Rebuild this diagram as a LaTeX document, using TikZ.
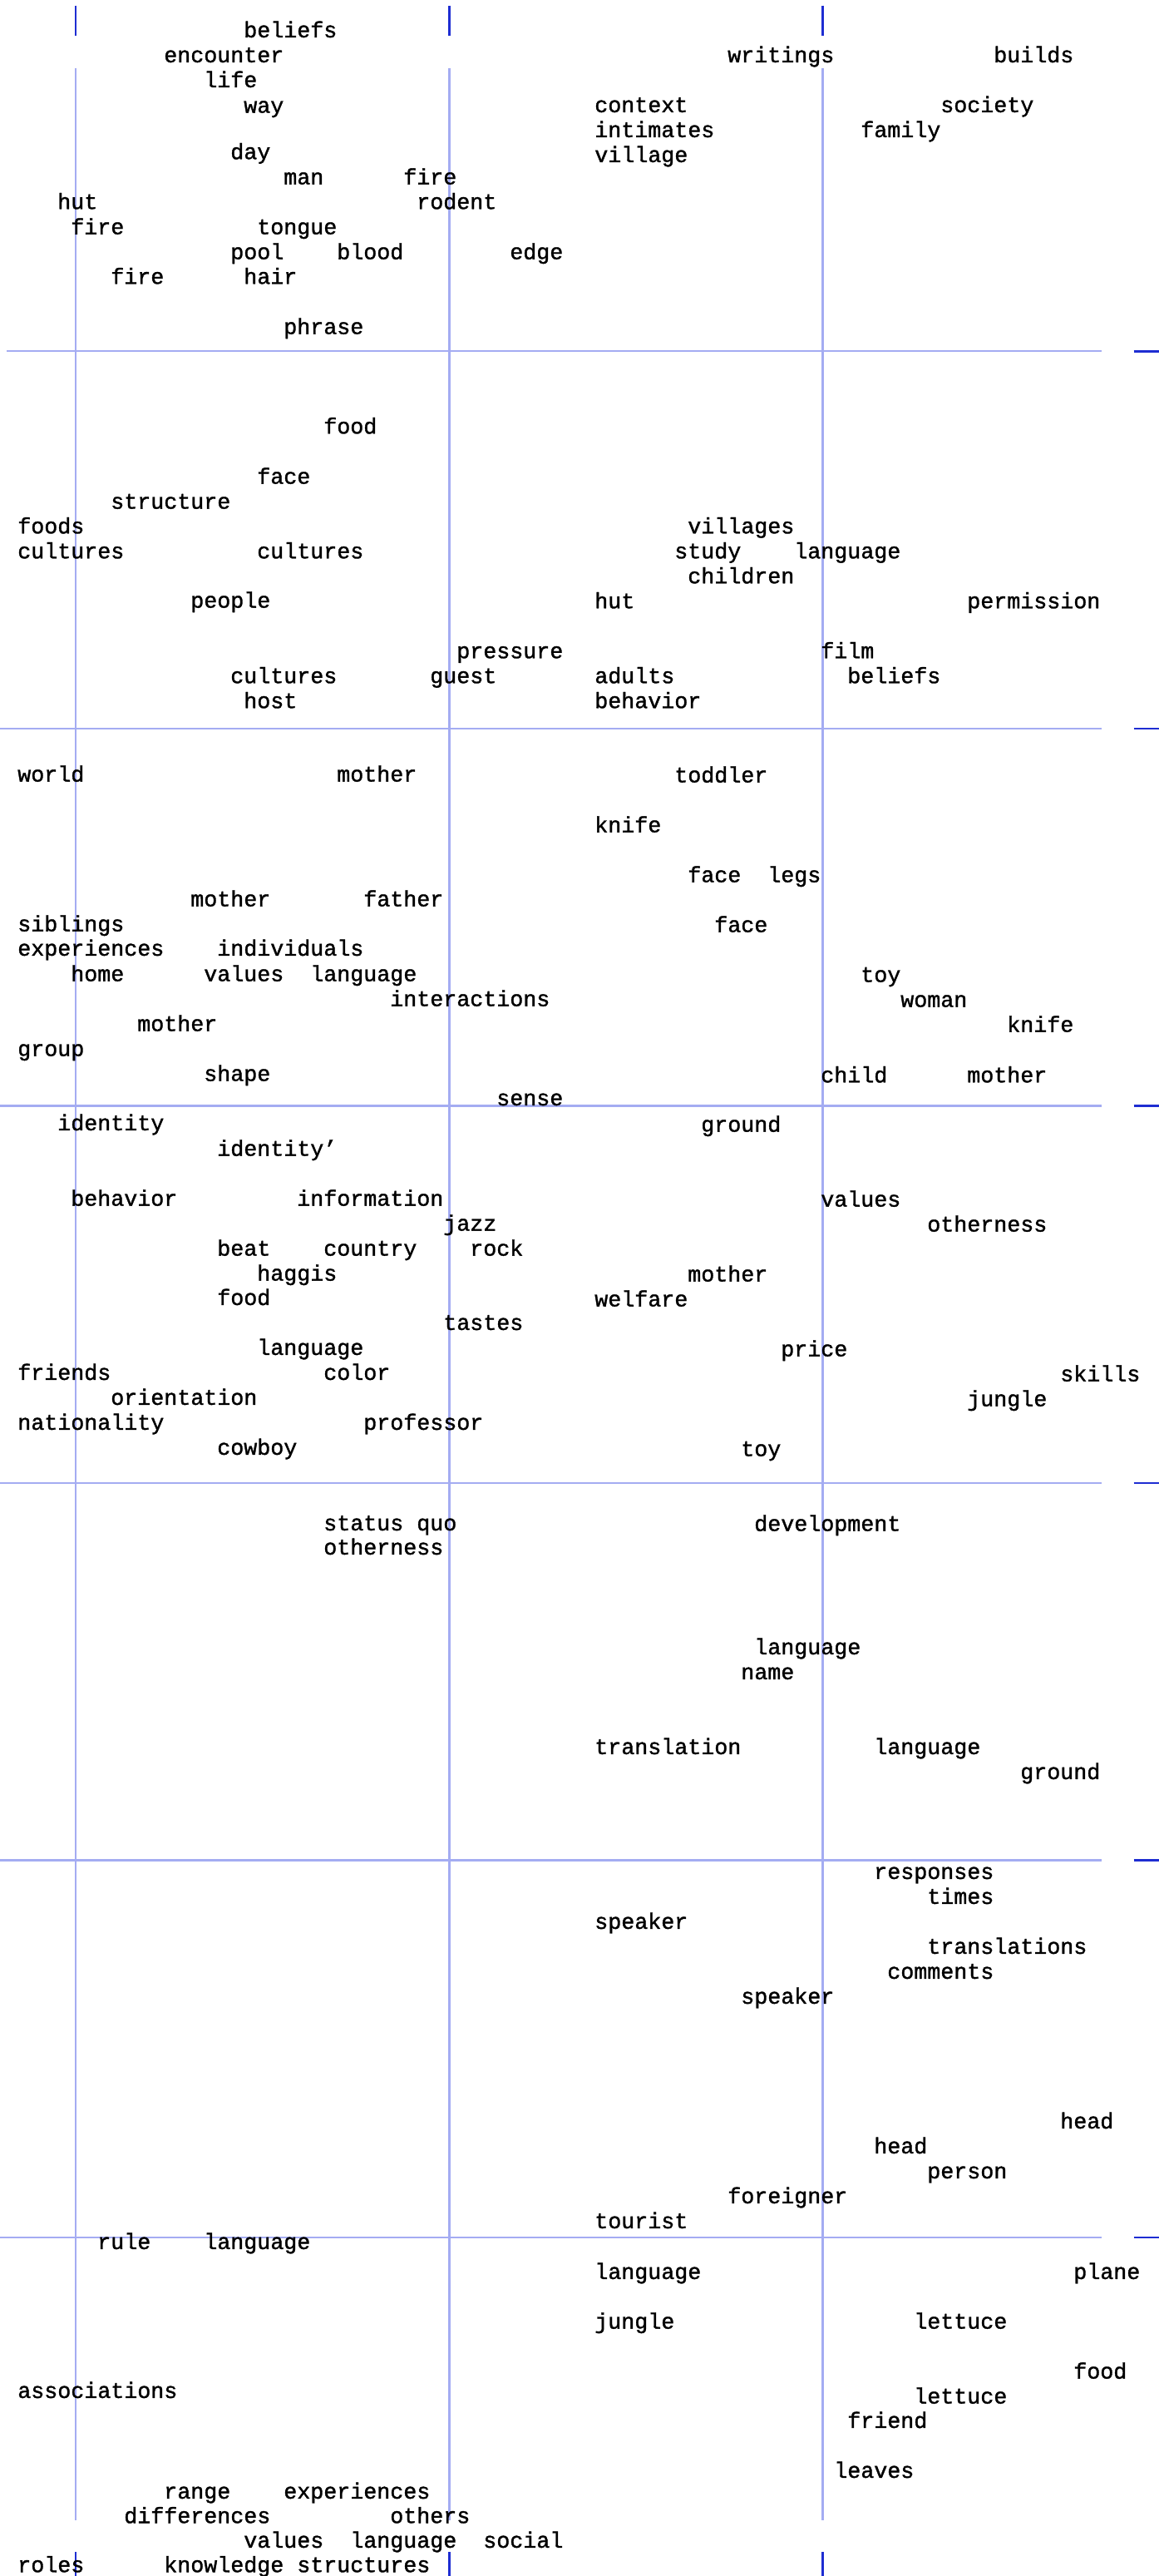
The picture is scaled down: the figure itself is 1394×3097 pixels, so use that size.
\documentclass[tikz,border=0pt]{standalone}
\usepackage{fontspec}
\setmainfont{Liberation Mono}[FakeBold=1.3]
\definecolor{gridlight}{RGB}{164,172,242}
\definecolor{griddark}{RGB}{30,45,210}
\newcommand\wordL[4]{\node[wd] (#1) at ({21.3+16*#2},{#3+0.6}) {#4};}
\newcommand\wordR[4]{\node[wd] (#1) at ({715.3+16*#2},{#3+0.6}) {#4};}
\begin{document}
\begin{tikzpicture}[x=1pt,y=-1pt,
  wd/.style={anchor=base west,inner sep=0pt,outer sep=0pt,font=\fontsize{26.67}{30}\selectfont,text=black},
  lightline/.style={draw=gridlight,line width=2.2pt},
  darkline/.style={draw=griddark,line width=2.4pt}]
\useasboundingbox[fill=white] (0,0) rectangle (1394,3097);
% grid lines
\foreach \k in {0,...,5}{
  \pgfmathsetmacro\yy{422.3+453.55*\k}
  \draw[lightline] ({\k==0 ? 8 : 0},\yy) -- (1325,\yy);
  \draw[darkline] (1363.5,\yy) -- (1394,\yy);
}
\foreach \xx in {91,540.5,989.5}{
  \draw[lightline] (\xx,81.7) -- (\xx,3030);
  \draw[darkline] (\xx,6.7) -- (\xx,43.3);
  \draw[darkline] (\xx,3068.3) -- (\xx,3097);
}
% panel 1
\wordL{a1}{17}{44.3}{beliefs}
\wordL{a2}{11}{74.3}{encounter}
\wordL{a3}{14}{104.3}{life}
\wordL{a4}{17}{135}{way}
\wordL{a5}{16}{190.7}{day}
\wordL{a6}{20}{221}{man}
\wordL{a7}{29}{221}{fire}
\wordL{a8}{3}{250.7}{hut}
\wordL{a9}{30}{250.7}{rodent}
\wordL{a10}{4}{281}{fire}
\wordL{a11}{18}{281}{tongue}
\wordL{a12}{16}{311}{pool}
\wordL{a13}{24}{311}{blood}
\wordL{a14}{37}{311}{edge}
\wordL{a15}{7}{340.7}{fire}
\wordL{a16}{17}{340.7}{hair}
\wordL{a17}{20}{401}{phrase}
\wordR{a18}{10}{74.3}{writings}
\wordR{a19}{30}{74.3}{builds}
\wordR{a20}{0}{134.3}{context}
\wordR{a21}{26}{134.3}{society}
\wordR{a22}{0}{164.3}{intimates}
\wordR{a23}{20}{164.3}{family}
\wordR{a24}{0}{194.3}{village}
% panel 2
\wordL{b1}{23}{520.7}{food}
\wordL{b2}{18}{581}{face}
\wordL{b3}{7}{611}{structure}
\wordL{b4}{0}{640.7}{foods}
\wordL{b5}{0}{670.7}{cultures}
\wordL{b6}{18}{670.7}{cultures}
\wordL{b7}{13}{730}{people}
\wordL{b8}{33}{790.7}{pressure}
\wordL{b9}{16}{820.7}{cultures}
\wordL{b10}{31}{820.7}{guest}
\wordL{b11}{17}{850.7}{host}
\wordR{b12}{7}{640.7}{villages}
\wordR{b13}{6}{670.7}{study}
\wordR{b14}{15}{670.7}{language}
\wordR{b15}{7}{700.7}{children}
\wordR{b16}{0}{730.7}{hut}
\wordR{b17}{28}{730.7}{permission}
\wordR{b18}{17}{790.7}{film}
\wordR{b19}{0}{820.7}{adults}
\wordR{b20}{19}{820.7}{beliefs}
\wordR{b21}{0}{850.7}{behavior}
% panel 3
\wordL{c1}{0}{939}{world}
\wordL{c2}{24}{939}{mother}
\wordL{c3}{13}{1089}{mother}
\wordL{c4}{26}{1089}{father}
\wordL{c5}{0}{1119}{siblings}
\wordL{c6}{0}{1148.3}{experiences}
\wordL{c7}{15}{1148.3}{individuals}
\wordL{c8}{4}{1179}{home}
\wordL{c9}{14}{1179}{values}
\wordL{c10}{22}{1179}{language}
\wordL{c11}{28}{1209}{interactions}
\wordL{c12}{9}{1239}{mother}
\wordL{c13}{0}{1269}{group}
\wordL{c14}{14}{1299}{shape}
\wordL{c15}{36}{1328.3}{sense}
\wordR{c16}{6}{940}{toddler}
\wordR{c17}{0}{1000}{knife}
\wordR{c18}{7}{1060}{face}
\wordR{c19}{13}{1060}{legs}
\wordR{c20}{9}{1120}{face}
\wordR{c21}{20}{1180}{toy}
\wordR{c22}{23}{1210}{woman}
\wordR{c23}{31}{1240}{knife}
\wordR{c24}{17}{1300.7}{child}
\wordR{c25}{28}{1300.7}{mother}
% panel 4
\wordL{d1}{3}{1358.3}{identity}
\wordL{d2}{15}{1389}{identity’}
\wordL{d3}{4}{1449}{behavior}
\wordL{d4}{21}{1449}{information}
\wordL{d5}{32}{1479}{jazz}
\wordL{d6}{15}{1509}{beat}
\wordL{d7}{23}{1509}{country}
\wordL{d8}{34}{1509}{rock}
\wordL{d9}{18}{1539}{haggis}
\wordL{d10}{15}{1568.3}{food}
\wordL{d11}{32}{1598.3}{tastes}
\wordL{d12}{18}{1628.3}{language}
\wordL{d13}{0}{1658.3}{friends}
\wordL{d14}{23}{1658.3}{color}
\wordL{d15}{7}{1688.3}{orientation}
\wordL{d16}{0}{1718.3}{nationality}
\wordL{d17}{26}{1718.3}{professor}
\wordL{d18}{15}{1748.3}{cowboy}
\wordR{d19}{8}{1360}{ground}
\wordR{d20}{17}{1450}{values}
\wordR{d21}{25}{1480}{otherness}
\wordR{d22}{7}{1540}{mother}
\wordR{d23}{0}{1570}{welfare}
\wordR{d24}{14}{1630}{price}
\wordR{d25}{35}{1660}{skills}
\wordR{d26}{28}{1690}{jungle}
\wordR{d27}{11}{1750}{toy}
% panel 5
\wordL{e1}{23}{1839.3}{status quo}
\wordL{e2}{23}{1868.3}{otherness}
\wordR{e3}{12}{1840}{development}
\wordR{e4}{12}{1988.3}{language}
\wordR{e5}{11}{2018.3}{name}
\wordR{e6}{0}{2108.3}{translation}
\wordR{e7}{21}{2108.3}{language}
\wordR{e8}{32}{2138.3}{ground}
% panel 6
\wordR{f1}{21}{2258.3}{responses}
\wordR{f2}{25}{2288.3}{times}
\wordR{f3}{0}{2318.3}{speaker}
\wordR{f4}{25}{2348.3}{translations}
\wordR{f5}{22}{2378.3}{comments}
\wordR{f6}{11}{2408.3}{speaker}
\wordR{f7}{35}{2558.3}{head}
\wordR{f8}{21}{2588.3}{head}
\wordR{f9}{25}{2618.3}{person}
\wordR{f10}{10}{2648.3}{foreigner}
\wordR{f11}{0}{2678.3}{tourist}
% panel 7
\wordL{g1}{6}{2703.3}{rule}
\wordL{g2}{14}{2703.3}{language}
\wordR{g3}{0}{2739.3}{language}
\wordR{g4}{36}{2739.3}{plane}
\wordR{g5}{0}{2799}{jungle}
\wordR{g6}{24}{2799}{lettuce}
\wordR{g7}{36}{2859}{food}
\wordL{g8}{0}{2882.3}{associations}
\wordR{g9}{24}{2889}{lettuce}
\wordR{g10}{19}{2918.3}{friend}
\wordR{g11}{18}{2978.3}{leaves}
\wordL{g12}{11}{3003.3}{range}
\wordL{g13}{20}{3003.3}{experiences}
\wordL{g14}{8}{3032.7}{differences}
\wordL{g15}{28}{3032.7}{others}
\wordL{g16}{17}{3062.3}{values}
\wordL{g17}{25}{3062.3}{language}
\wordL{g18}{35}{3062.3}{social}
\wordL{g19}{0}{3091.7}{roles}
\wordL{g20}{11}{3091.7}{knowledge structures}
\end{tikzpicture}
\end{document}
